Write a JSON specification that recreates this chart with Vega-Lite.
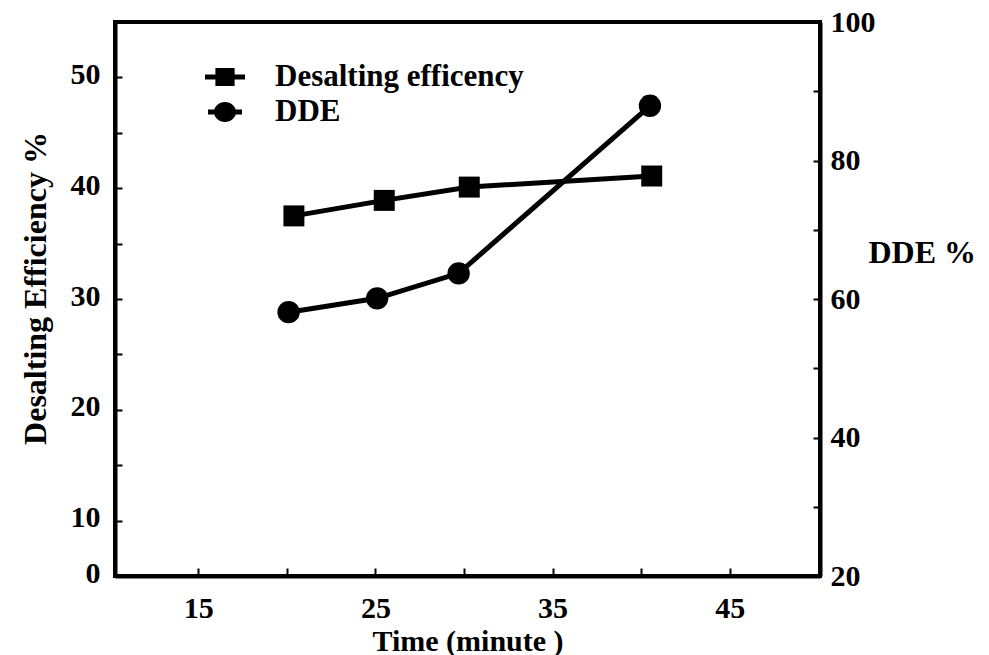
{
  "$schema": "https://vega.github.io/schema/vega-lite/v6.json",
  "width": 705,
  "height": 554,
  "autosize": "none",
  "padding": {"left": 115, "top": 22, "right": 169, "bottom": 79},
  "background": "white",
  "config": {
    "view": {"stroke": "black", "strokeWidth": 4},
    "font": "Liberation Serif",
    "axis": {
      "grid": false,
      "domainColor": "black",
      "domainWidth": 4,
      "tickColor": "black",
      "tickWidth": 2,
      "labelColor": "black",
      "labelFont": "Liberation Serif",
      "labelFontWeight": "bold",
      "labelFlush": false,
      "labelOverlap": false,
      "labelBound": false,
      "titleColor": "black",
      "titleFont": "Liberation Serif",
      "titleFontWeight": "bold"
    }
  },
  "datasets": {
    "de": [
      {"t": 20.4, "v": 37.5, "series": "Desalting efficency"},
      {"t": 25.5, "v": 38.9, "series": "Desalting efficency"},
      {"t": 30.3, "v": 40.1, "series": "Desalting efficency"},
      {"t": 40.6, "v": 41.1, "series": "Desalting efficency"}
    ],
    "dde": [
      {"t": 20.1, "v": 58.1, "series": "DDE"},
      {"t": 25.1, "v": 60.1, "series": "DDE"},
      {"t": 29.7, "v": 63.7, "series": "DDE"},
      {"t": 40.5, "v": 87.9, "series": "DDE"}
    ]
  },
  "layer": [
    {
      "data": {"name": "de"},
      "encoding": {
        "x": {
          "field": "t", "type": "quantitative",
          "scale": {"domain": [10.3, 50.1], "nice": false, "zero": false},
          "axis": {
            "values": [15, 20, 25, 30, 35, 40, 45],
            "labelExpr": "datum.value % 10 == 5 ? datum.label : ''",
            "tickSize": -8,
            "labelPadding": 25,
            "labelFontSize": 30,
            "title": "Time (minute )",
            "titleFontSize": 30,
            "titleBaseline": "alphabetic",
            "titleY": 74
          }
        },
        "y": {
          "field": "v", "type": "quantitative",
          "scale": {"domain": [5, 55], "nice": false, "zero": false},
          "axis": {
            "orient": "left",
            "values": [5, 10, 15, 20, 25, 30, 35, 40, 45, 50],
            "labelExpr": "datum.value == 5 ? '0' : (datum.value % 10 == 0 ? datum.label : '')",
            "tickSize": -7,
            "labelPadding": 22,
            "labelOffset": -3,
            "labelFontSize": 30,
            "title": "Desalting Efficiency %",
            "titleFontSize": 32,
            "titleAngle": 270,
            "titleAlign": "center",
            "titleBaseline": "middle",
            "titleX": -80,
            "titleY": 266
          }
        }
      },
      "layer": [
        {"mark": {"type": "line", "color": "black", "strokeWidth": 5}},
        {"mark": {"type": "point", "shape": "square", "filled": true, "color": "black", "opacity": 1, "size": 440}},
        {
          "mark": {"type": "point", "filled": true, "color": "black", "opacity": 0},
          "encoding": {
            "shape": {
              "field": "series", "type": "nominal",
              "scale": {
                "domain": ["Desalting efficency", "DDE"],
                "range": [
                  "M-1,-0.13H1V0.13H-1Z M-0.48,-0.45H0.48V0.45H-0.48Z",
                  "M-0.85,-0.13H0.85V0.13H-0.85Z M-0.55,0A0.55,0.5 0 1,1 0.55,0A0.55,0.5 0 1,1 -0.55,0Z"
                ]
              },
              "legend": {
                "orient": "none",
                "legendX": 90,
                "legendY": 35,
                "title": null,
                "symbolSize": 1600,
                "symbolFillColor": "black",
                "symbolStrokeColor": "black",
                "symbolStrokeWidth": 0,
                "symbolOpacity": 1,
                "labelFont": "Liberation Serif",
                "labelFontWeight": "bold",
                "labelFontSize": 31,
                "labelColor": "black",
                "labelLimit": 0,
                "labelOffset": 30,
                "rowPadding": 0
              }
            }
          }
        }
      ]
    },
    {
      "data": {"name": "dde"},
      "encoding": {
        "x": {"field": "t", "type": "quantitative", "scale": {"domain": [10.3, 50.1], "nice": false, "zero": false}},
        "y": {
          "field": "v", "type": "quantitative",
          "scale": {"domain": [20, 100], "nice": false, "zero": false},
          "axis": {
            "orient": "right",
            "values": [20, 30, 40, 50, 60, 70, 80, 90, 100],
            "labelExpr": "datum.value % 20 == 0 ? datum.label : ''",
            "tickSize": -7,
            "labelPadding": 17,
            "labelFontSize": 30,
            "title": "DDE %",
            "titleFontSize": 32,
            "titleAngle": 0,
            "titleAlign": "left",
            "titleBaseline": "middle",
            "titleX": 48,
            "titleY": 230
          }
        }
      },
      "layer": [
        {"mark": {"type": "line", "color": "black", "strokeWidth": 5}},
        {"mark": {"type": "point", "shape": "circle", "filled": true, "color": "black", "opacity": 1, "size": 500}}
      ]
    }
  ],
  "resolve": {"scale": {"y": "independent"}}
}
